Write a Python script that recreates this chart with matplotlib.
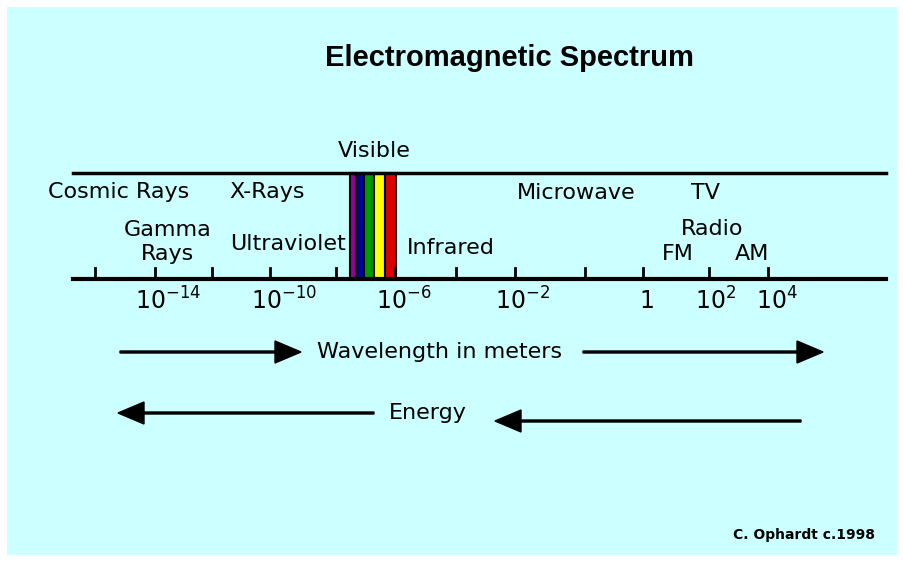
import matplotlib
matplotlib.use("Agg")
import matplotlib.pyplot as plt
from matplotlib.patches import Rectangle

plt.rcParams['mathtext.fontset'] = 'dejavusans'

# schematic positions (figure pixels) of the axis ticks
tick_x = [95, 155, 212, 270, 336, 395, 456, 515, 585, 643, 709, 768]
tick_labels = [r'$10^{-14}$', r'$10^{-10}$', r'$10^{-6}$', r'$10^{-2}$',
               r'$1$', r'$10^{2}$', r'$10^{4}$']
tick_label_x = [168, 284, 404, 523, 646, 716, 777]

# visible band: colour stripes between these edges
vis_edges = [350, 356, 364, 374, 385, 396]
vis_colors = ['#990099', '#000099', '#009900', '#FFFF00', '#DD0000']

# region names: (text, x, y)
regions = [
    ('Cosmic Rays', 119, 192),
    ('X-Rays', 267, 192),
    ('Gamma', 168, 230),
    ('Rays', 168, 254),
    ('Ultraviolet', 288, 244),
    ('Infrared', 451, 248),
    ('Microwave', 576, 193),
    ('TV', 706, 193),
    ('Radio', 712, 229),
    ('FM', 678, 254),
    ('AM', 752, 254),
    ('Visible', 374, 151),
]

W, H = 904, 561
axis_y, top_y = 279, 173
line_x0, line_x1 = 73, 886

fig = plt.figure(figsize=(W / 100, H / 100), dpi=100)
ax = fig.add_axes([0, 0, 1, 1])
ax.set_xlim(0, W)
ax.set_ylim(H, 0)
ax.axis('off')

ax.add_patch(Rectangle((7, 7), 890, 548, facecolor='#CCFFFF', edgecolor='none'))

ax.text(509, 58, 'Electromagnetic Spectrum', ha='center', va='center',
        fontsize=21, fontweight='bold', family='Liberation Sans')

# visible stripes
for i, c in enumerate(vis_colors):
    ax.add_patch(Rectangle((vis_edges[i], top_y), vis_edges[i + 1] - vis_edges[i],
                           axis_y - top_y, facecolor=c, edgecolor='black', lw=1.5))

ax.plot([line_x0, line_x1], [top_y, top_y], color='black', lw=2.5)
ax.plot([line_x0, line_x1], [axis_y, axis_y], color='black', lw=3)
for x in tick_x:
    ax.plot([x, x], [axis_y - 11, axis_y], color='black', lw=2)

for lab, x in zip(tick_labels, tick_label_x):
    ax.text(x, 301, lab, ha='center', va='center', fontsize=17)

for name, x, y in regions:
    ax.text(x, y, name, ha='center', va='center', fontsize=16)

# wavelength arrows
arr = dict(width=2, head_width=22, head_length=26, length_includes_head=True,
           color='black')
ax.arrow(120, 352, 181, 0, **arr)
ax.arrow(583, 352, 240, 0, **arr)
ax.text(440, 352, 'Wavelength in meters', ha='center', va='center', fontsize=16)

# energy arrows
ax.arrow(374, 413, -256, 0, **arr)
ax.arrow(801, 421, -306, 0, **arr)
ax.text(428, 413, 'Energy', ha='center', va='center', fontsize=16)

ax.text(804, 535, 'C. Ophardt c.1998', ha='center', va='center',
        fontsize=10, fontweight='bold')

fig.savefig('out.png', dpi=100)
